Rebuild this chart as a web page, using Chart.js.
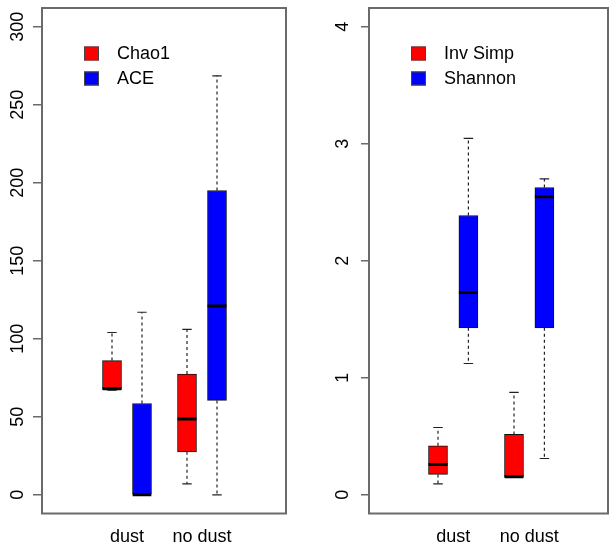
<!DOCTYPE html>
<html><head><meta charset="utf-8">
<script src="https://cdn.jsdelivr.net/npm/chart.js@4"></script>
<style>
html,body{margin:0;padding:0;background:#fff;}
#wrap{position:relative;width:609px;height:547px;overflow:hidden;background:#fff;}
#c1{position:absolute;left:0;top:0;}
#c2{position:absolute;left:300px;top:0;}
</style></head><body>
<div id="wrap">
<canvas id="c1" width="300" height="547"></canvas>
<canvas id="c2" width="309" height="547"></canvas>
</div>
<script>
// ---- data ----
const groups = ['dust', 'no dust'];
// stats per group: [min, q1, median, q3, max]
const chao1Stats = [[67, 67.5, 68, 86, 104], [7, 27.5, 48.5, 77.4, 106]];
const aceStats = [[0, 0, 0, 58.5, 117], [0, 60.5, 121, 195, 268.5]];
const invSimpStats = [[0.094, 0.174, 0.259, 0.419, 0.575], [0.15, 0.152, 0.154, 0.516, 0.875]];
const shannonStats = [[1.122, 1.427, 1.729, 2.387, 3.045], [0.31, 1.427, 2.547, 2.626, 2.70]];
const leftSeries = ['Chao1', 'ACE'];
const rightSeries = ['Inv Simp', 'Shannon'];
const leftTicks = [0, 50, 100, 150, 200, 250, 300];
const rightTicks = [0, 1, 2, 3, 4];

// ---- layout / style ----
const FONT = '"Liberation Sans", Arial, Helvetica, sans-serif';
const COLORS = ['#FF0000', '#0000FF'];
const groupPos = [1, 2];
const seriesOffset = [0, 0.4];
const labelOffset = 0.2;
const boxHalf = 0.125;
const capHalf = 0.0625;

function buildDatasets(seriesNames, statsList) {
  const ds = [];
  seriesNames.forEach((name, s) => {
    const stats = statsList[s];
    const xs = groupPos.map(p => p + seriesOffset[s]);
    ds.push({
      type: 'bar', label: name, order: 2, grouped: false,
      data: stats.map((st, i) => ({x: xs[i], y: [st[1], st[3]]})),
      backgroundColor: COLORS[s], borderColor: '#111', borderWidth: 1,
      borderSkipped: false, barThickness: 19
    });
    const wh = [], caps = [], meds = [];
    stats.forEach((st, i) => {
      const x = xs[i];
      wh.push({x, y: st[3]}, {x, y: st[4]}, {x, y: null}, {x, y: st[1]}, {x, y: st[0]}, {x, y: null});
      caps.push({x: x - capHalf, y: st[4]}, {x: x + capHalf, y: st[4]}, {x, y: null},
                {x: x - capHalf, y: st[0]}, {x: x + capHalf, y: st[0]}, {x, y: null});
      meds.push({x: x - boxHalf, y: st[2]}, {x: x + boxHalf, y: st[2]}, {x, y: null});
    });
    const lineBase = {type: 'line', pointRadius: 0, fill: false, tension: 0, spanGaps: false, borderCapStyle: 'butt'};
    ds.push(Object.assign({}, lineBase, {label: name + ' whisker', data: wh, borderColor: '#222', borderWidth: 1.2, borderDash: [3, 3], order: 3}));
    ds.push(Object.assign({}, lineBase, {label: name + ' cap', data: caps, borderColor: '#222', borderWidth: 1.2, order: 3}));
    ds.push(Object.assign({}, lineBase, {label: name + ' median', data: meds, borderColor: '#000', borderWidth: 3, order: 0}));
  });
  return ds;
}

const framePlugin = {
  id: 'frameLegend',
  afterDraw(chart, args, opts) {
    const ctx = chart.ctx, a = chart.chartArea;
    ctx.save();
    ctx.strokeStyle = '#6a6a6a';
    ctx.lineWidth = 2;
    ctx.strokeRect(a.left, a.top, a.right - a.left, a.bottom - a.top);
    // legend
    ctx.font = '18px ' + FONT;
    ctx.textBaseline = 'middle';
    ctx.textAlign = 'left';
    opts.names.forEach((n, i) => {
      const cy = a.top + 45.5 + i * 25;
      ctx.fillStyle = COLORS[i];
      ctx.fillRect(a.left + 42, cy - 7, 15, 14);
      ctx.strokeStyle = '#444';
      ctx.lineWidth = 1;
      ctx.strokeRect(a.left + 42.5, cy - 6.5, 14, 13);
      ctx.fillStyle = '#000';
      ctx.fillText(n, a.left + 75, cy + 1);
    });
    ctx.restore();
  }
};

function makeChart(id, seriesNames, statsList, yTicks, yMin, yMax, xMin, xMax, yWidth, tickLen, tickPad, padRight) {
  return new Chart(document.getElementById(id), {
    type: 'bar',
    data: {datasets: buildDatasets(seriesNames, statsList)},
    plugins: [framePlugin],
    options: {
      responsive: false, animation: false,
      layout: {padding: {left: 0, right: padRight, top: 8, bottom: 0}},
      plugins: {legend: {display: false}, tooltip: {enabled: false}, frameLegend: {names: seriesNames}},
      scales: {
        x: {
          type: 'linear', min: xMin, max: xMax, offset: false,
          grid: {display: false, drawTicks: false, offset: false}, border: {display: false},
          afterBuildTicks: s => { s.ticks = groupPos.map(p => ({value: p + labelOffset})); },
          afterFit: s => { s.height = 33.5; s.paddingLeft = 0; s.paddingRight = 0; },
          ticks: {autoSkip: false, maxRotation: 0, minRotation: 0, padding: 13, color: '#000',
                  font: {family: FONT, size: 18}, callback: (v, i) => groups[i]}
        },
        y: {
          type: 'linear', min: yMin, max: yMax,
          afterBuildTicks: s => { s.ticks = yTicks.map(v => ({value: v})); },
          afterFit: s => { s.width = yWidth; s.paddingTop = 0; s.paddingBottom = 0; },
          grid: {display: true, drawOnChartArea: false, drawTicks: true, tickLength: tickLen, color: '#6a6a6a', lineWidth: 1.5},
          border: {display: false},
          ticks: {minRotation: 90, maxRotation: 90, crossAlign: 'center', padding: tickPad, color: '#000',
                  font: {family: FONT, size: 18}}
        }
      }
    }
  });
}

makeChart('c1', leftSeries, [chao1Stats, aceStats], leftTicks, -12, 312, 0.0667, 3.32, 42, 9, 0, 14);
makeChart('c2', rightSeries, [invSimpStats, shannonStats], rightTicks, -0.16, 4.16, 0.092, 3.237, 69, 8, 12.5, 1);
</script>
</body></html>
